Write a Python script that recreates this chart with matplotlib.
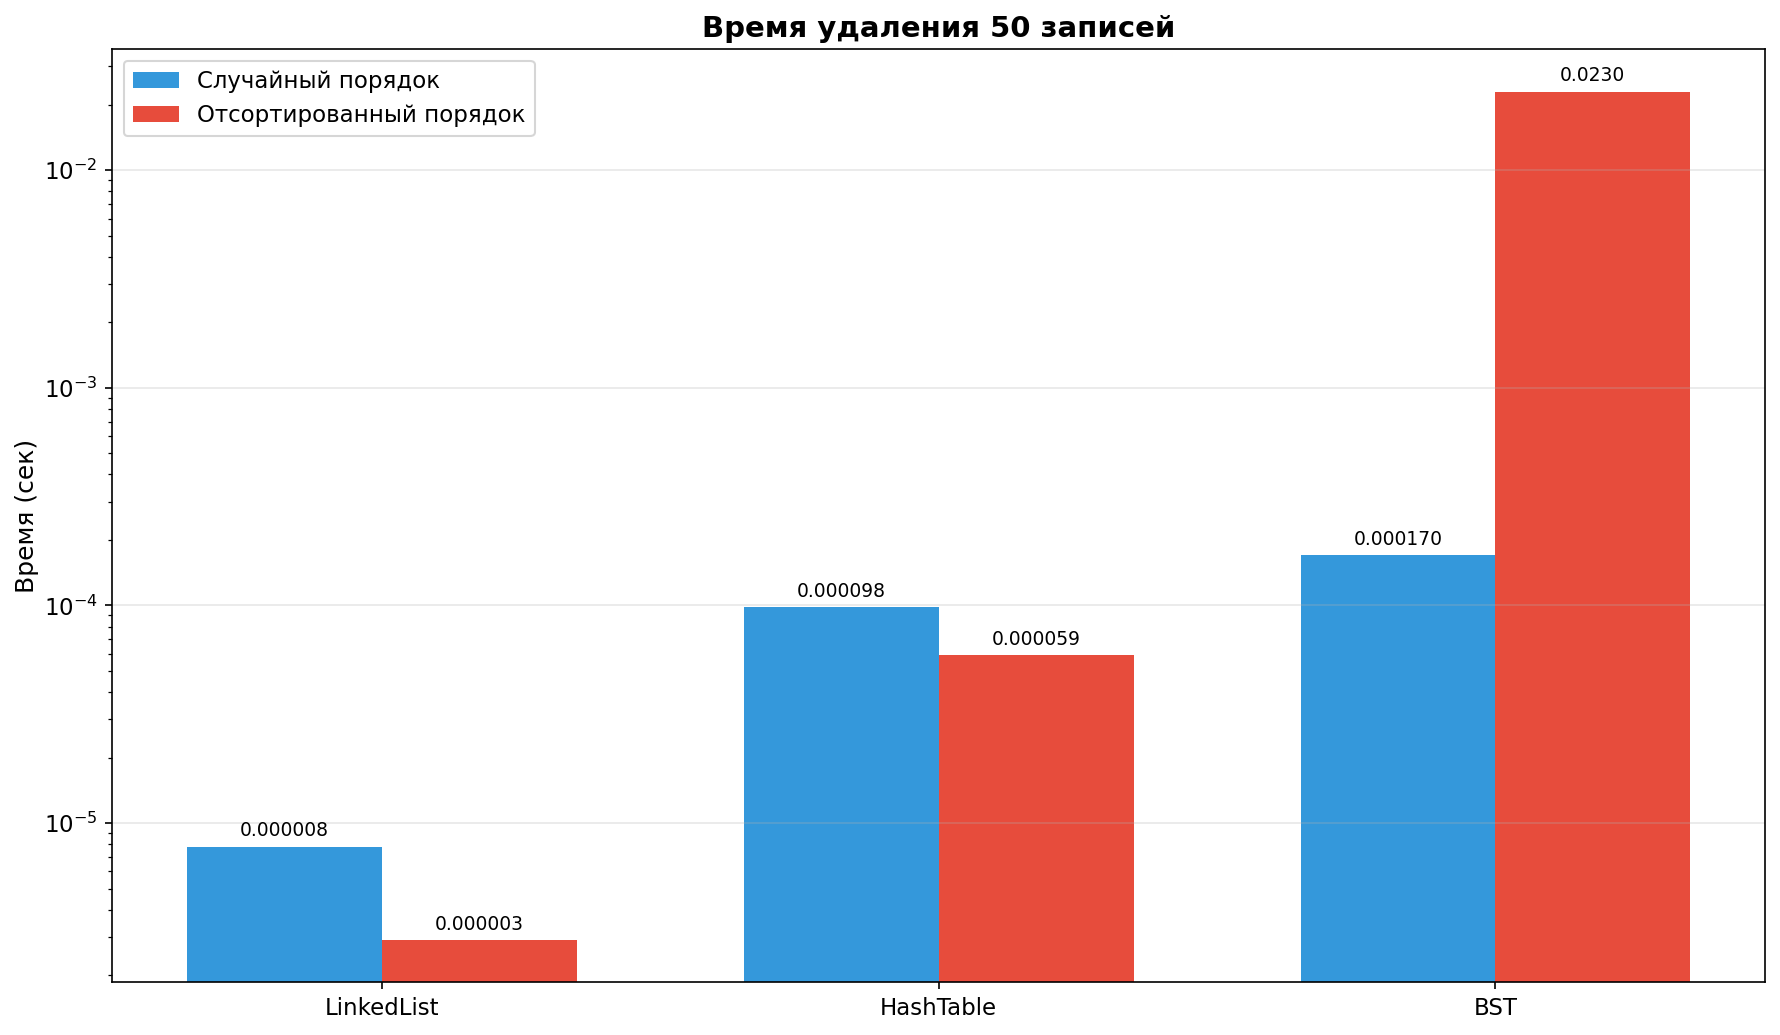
import numpy as np
import matplotlib
matplotlib.use('Agg')
import matplotlib.pyplot as plt

structures = ['LinkedList', 'HashTable', 'BST']
random_times = [7.8e-6, 9.8e-5, 1.70e-4]
sorted_times = [2.9e-6, 5.9e-5, 2.30e-2]

x = np.arange(len(structures))
width = 0.35

fig, ax = plt.subplots(figsize=(11.87, 6.9), dpi=150)
bars1 = ax.bar(x - width / 2, random_times, width, label='Случайный порядок', color='#3498db')
bars2 = ax.bar(x + width / 2, sorted_times, width, label='Отсортированный порядок', color='#e74c3c')

ax.set_yscale('log')
ax.set_ylabel('Время (сек)', fontsize=12, labelpad=2)
ax.set_title('Время удаления 50 записей', fontsize=14, fontweight='bold')
ax.set_xticks(x)
ax.set_xticklabels(structures, fontsize=11)
ax.tick_params(axis='y', labelsize=11)
ax.legend(fontsize=11, loc='upper left')
ax.grid(axis='y', alpha=0.3)

for bars in (bars1, bars2):
    for bar in bars:
        h = bar.get_height()
        txt = f'{h:.6f}' if h < 0.001 else f'{h:.4f}'
        ax.annotate(txt, xy=(bar.get_x() + bar.get_width() / 2, h),
                    xytext=(0, 3), textcoords='offset points',
                    ha='center', va='bottom', fontsize=9)

fig.subplots_adjust(left=0.063, right=0.9915, top=0.9525, bottom=0.0508)
plt.savefig('out.png', dpi=150)
